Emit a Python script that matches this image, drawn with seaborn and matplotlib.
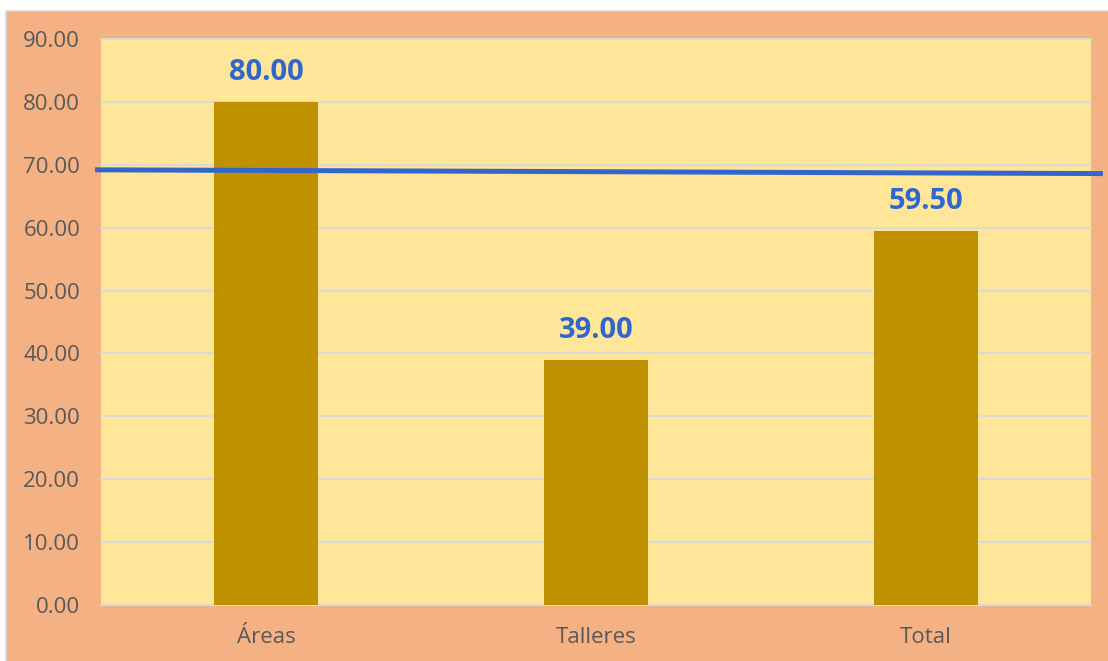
import matplotlib
matplotlib.use("Agg")
import matplotlib.pyplot as plt
import seaborn as sns
import pandas as pd
from matplotlib.patches import Rectangle

# Chart data
categories = ["Áreas", "Talleres", "Total"]
values = [80.00, 39.00, 59.50]
reference_level = [69.2, 68.6]   # reference line, left end / right end
y_ticks = [0, 10, 20, 30, 40, 50, 60, 70, 80, 90]

ORANGE = "#F4B183"
YELLOW = "#FFE699"
BAR = "#BF9000"
BLUE = "#3366CC"
GRID = "#D9D9D9"
TEXT = "#595959"

sns.set_theme(style="white")
plt.rcParams["font.family"] = ["Open Sans", "DejaVu Sans"]

W, H = 1108, 661
fig = plt.figure(figsize=(W / 100, H / 100), dpi=100, facecolor="white")

# Chart frame: orange panel with a thin light-grey border on top/left
fig.patches.append(Rectangle((6 / W, -0.01), 1.02, (H - 10.5) / H + 0.01,
                             transform=fig.transFigure, facecolor=ORANGE,
                             edgecolor=GRID, linewidth=1.2, zorder=-10))

ax = fig.add_axes([101 / W, (H - 605) / H, (1091 - 101) / W, (605 - 39) / H])
ax.set_facecolor(YELLOW)

df = pd.DataFrame({"categoria": categories, "valor": values})
sns.barplot(data=df, x="categoria", y="valor", color=BAR, width=0.315,
            saturation=1, linewidth=0, ax=ax, zorder=3)

ax.set_xlim(-0.5, 2.5)
ax.set_ylim(0, 90)
ax.set_yticks(y_ticks)
ax.set_yticklabels([f"{t:.2f}" for t in y_ticks])
ax.set_xlabel("")
ax.set_ylabel("")

ax.yaxis.grid(True, color=GRID, linewidth=1.5, zorder=0)
for gl in ax.get_ygridlines():
    gl.set_clip_on(False)
ax.set_axisbelow(True)
for side in ["top", "right", "left"]:
    ax.spines[side].set_visible(False)
ax.spines["bottom"].set_color(GRID)
ax.spines["bottom"].set_linewidth(1.5)

ax.tick_params(axis="y", length=0, pad=15, labelsize=16, labelcolor=TEXT)
ax.tick_params(axis="x", length=0, pad=16, labelsize=16, labelcolor=TEXT)

# Value labels above each bar
for i, v in enumerate(values):
    ax.annotate(f"{v:.2f}", xy=(i, v), xytext=(0, 21), textcoords="offset points",
                ha="center", va="center", fontsize=21, fontweight="bold",
                color=BLUE, zorder=5)

# Reference line running across the whole plot, slightly past its edges
ax.plot([-0.518, 2.536], reference_level, color=BLUE, linewidth=3.6,
        solid_capstyle="butt", clip_on=False, zorder=6)

fig.savefig("out.png", dpi=100, facecolor=fig.get_facecolor())
